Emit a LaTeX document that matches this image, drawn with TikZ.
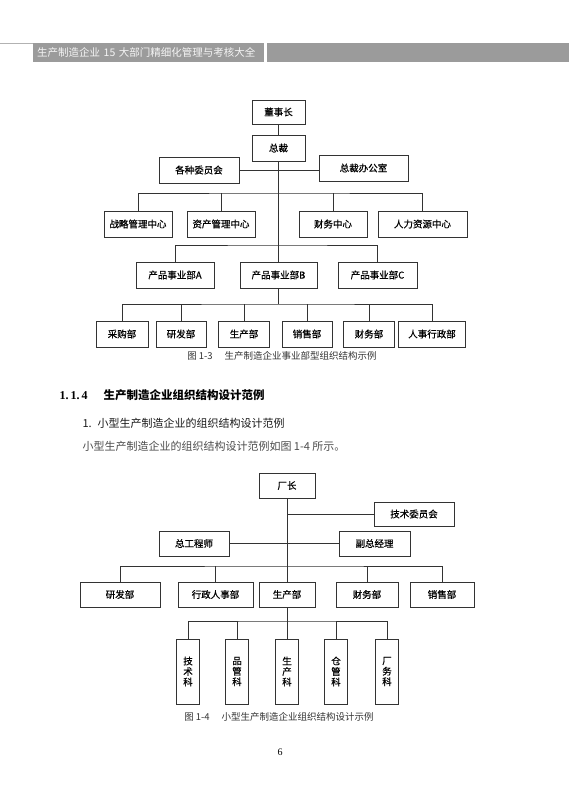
\documentclass[tikz,border=0pt]{standalone}
\usepackage{fontspec}
\setmainfont{Liberation Serif}
\newfontfamily\cjk{Noto Sans CJK SC}
\newfontfamily\cjkbox[FakeBold=0.6]{Noto Sans CJK SC}
\definecolor{headgray}{HTML}{9B9B9B}
\definecolor{inkgray}{HTML}{333333}
\newcommand\boxfont{\cjkbox\fontsize{9.5}{11}\selectfont}

\begin{document}
\begin{tikzpicture}[
    x=1pt, y=-1pt,
    unit/.style={draw=inkgray, line width=0.8pt, fill=white, inner sep=0pt, minimum height=26, font=\boxfont},
    vunit/.style={unit, minimum width=23, minimum height=65, align=center, font=\cjkbox\fontsize{9.5}{10.5}\selectfont},
    link/.style={draw=inkgray, line width=0.8pt},
    headbar/.style={fill=headgray, text=white!92!gray, inner xsep=4pt, inner ysep=0pt, minimum height=19, anchor=north west, font=\cjk\fontsize{10.5}{13}\selectfont},
    note/.style={font=\cjk\fontsize{9.5}{11}\selectfont, text=inkgray}
]
\useasboundingbox (0,0) rectangle (569,800);
\fill[white] (0,0) rectangle (569,800);

% page header
\draw[gray!60, line width=0.6pt] (0,43) -- (33,43);
\node[headbar, text width=223, align=left] (headl) at (33,43) {\mbox{生产制造企业 15 大部门精细化管理与考核大全}};
\node[headbar, minimum width=302] (headr) at (267,43) {};

% figure 1-3
\node[unit, minimum width=53, minimum height=24] (dsz) at (278.5,112) {董事长};
\node[unit, minimum width=53] (zc) at (278.5,148) {总裁};
\node[unit, minimum width=80] (wyh) at (199,170) {各种委员会};
\node[unit, minimum width=89] (zcb) at (363.5,168) {总裁办公室};
\node[unit, minimum width=68] (zlgl) at (138,224) {战略管理中心};
\node[unit, minimum width=68] (zcgl) at (221,224) {资产管理中心};
\node[unit, minimum width=68] (cwzx) at (333,224) {财务中心};
\node[unit, minimum width=89] (rlzy) at (422.5,224) {人力资源中心};
\node[unit, minimum width=78] (sya) at (175,275) {产品事业部A};
\node[unit, minimum width=77] (syb) at (278.5,275) {产品事业部B};
\node[unit, minimum width=79] (syc) at (377.5,275) {产品事业部C};
\node[unit, minimum width=52] (cgb) at (122,334) {采购部};
\node[unit, minimum width=50] (yfb) at (181,334) {研发部};
\node[unit, minimum width=51] (scb) at (244,334) {生产部};
\node[unit, minimum width=50] (xsb) at (307,334) {销售部};
\node[unit, minimum width=51] (cwb) at (369,334) {财务部};
\node[unit, minimum width=67] (rsxz) at (432,334) {人事行政部};
\coordinate (bus1) at (278.5,193);
\coordinate (bus2) at (278.5,245);
\coordinate (bus3) at (278.5,304);

\draw[link] (dsz) -- (zc);
\draw[link] (zc) -- (syb);
\draw[link] (wyh.east) -- (wyh.east -| zcb.west);
\draw[link] (zlgl.north) |- (bus1) -| (rlzy.north);
\foreach \n in {zcgl,cwzx} \draw[link] (\n.north) -- (\n.north |- bus1);
\draw[link] (sya.north) |- (bus2) -| (syc.north);
\draw[link] (syb.south) -- (bus3);
\draw[link] (cgb.north) |- (bus3) -| (rsxz.north);
\foreach \n in {yfb,scb,xsb,cwb} \draw[link] (\n.north) -- (\n.north |- bus3);

\node[note] (cap13) at (282,356) {图 1-3\hspace{12pt}生产制造企业事业部型组织结构示例};

% section text
\node[anchor=west, font=\bfseries\fontsize{12}{14}\selectfont] (sec) at (56,395) {1.\,1.\,4\hspace{16pt}{\cjk\bfseries\fontsize{11.5}{14}\selectfont 生产制造企业组织结构设计范例}};
\node[anchor=west, font=\cjk\fontsize{11}{13}\selectfont, text=black!90] (sub) at (79,423) {1.\hspace{6pt}小型生产制造企业的组织结构设计范例};
\node[anchor=west, font=\cjk\fontsize{11}{13}\selectfont, text=black!70] (body) at (79,446) {小型生产制造企业的组织结构设计范例如图 1-4 所示。};

% figure 1-4
\node[unit, minimum width=56, minimum height=25] (cz) at (287,485.5) {厂长};
\node[unit, minimum width=80, minimum height=24] (jswyh) at (414,514) {技术委员会};
\node[unit, minimum width=70, minimum height=25] (zgcs) at (194,543.5) {总工程师};
\node[unit, minimum width=71, minimum height=25] (fzjl) at (374.5,543.5) {副总经理};
\node[unit, minimum width=80, minimum height=25] (yfb2) at (120,594.5) {研发部};
\node[unit, minimum width=75, minimum height=25] (xzrs) at (215.5,594.5) {行政人事部};
\node[unit, minimum width=56, minimum height=25] (scb2) at (287,594.5) {生产部};
\node[unit, minimum width=62, minimum height=25] (cwb2) at (367,594.5) {财务部};
\node[unit, minimum width=64, minimum height=25] (xsb2) at (442,594.5) {销售部};
\node[vunit] (jsk) at (188,671.5) {技\\术\\科};
\node[vunit] (pgk) at (237,671.5) {品\\管\\科};
\node[vunit] (sck) at (287,671.5) {生\\产\\科};
\node[vunit] (cgk) at (336,671.5) {仓\\管\\科};
\node[vunit] (cwk) at (387,671.5) {厂\\务\\科};
\coordinate (bus4) at (287,566);
\coordinate (bus5) at (287,621);

\draw[link] (cz) -- (scb2);
\draw[link] (jswyh.west) -- (jswyh.west -| cz.south);
\draw[link] (zgcs) -- (fzjl);
\draw[link] (yfb2.north) |- (bus4) -| (xsb2.north);
\foreach \n in {xzrs,cwb2} \draw[link] (\n.north) -- (\n.north |- bus4);
\draw[link] (scb2.south) -- (bus5);
\draw[link] (jsk.north) |- (bus5) -| (cwk.north);
\foreach \n in {pgk,sck,cgk} \draw[link] (\n.north) -- (\n.north |- bus5);

\node[note] (cap14) at (279,717) {图 1-4\hspace{12pt}小型生产制造企业组织结构设计示例};

\node[font=\fontsize{10}{12}\selectfont] (pageno) at (280,752) {6};
\end{tikzpicture}
\end{document}
